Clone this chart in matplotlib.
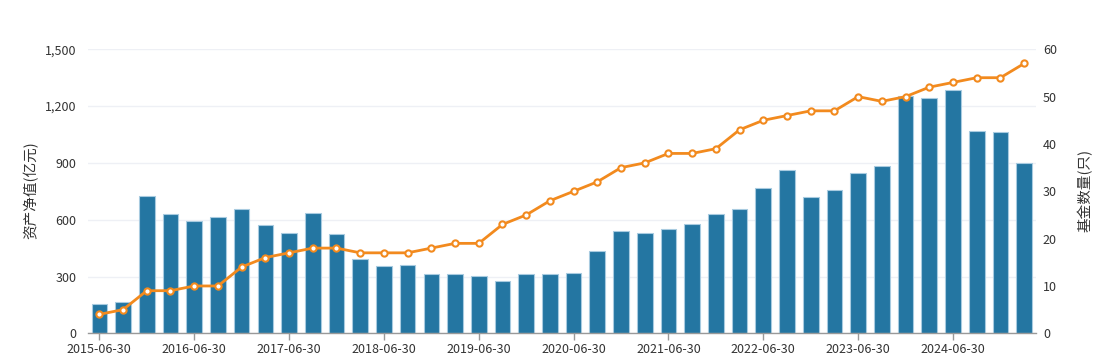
import matplotlib
matplotlib.use("Agg")
import matplotlib.pyplot as plt
from matplotlib.ticker import FuncFormatter

plt.rcParams['font.family'] = ['Noto Sans CJK SC', 'DejaVu Sans']

dates = []
for y in range(2015, 2026):
    for md in ["03-31", "06-30", "09-30", "12-31"]:
        dates.append(f"{y}-{md}")
dates = dates[1:41]  # 2015-06-30 .. 2025-03-31

net_assets = [155, 166, 726, 630, 592, 615, 655, 572, 532, 634,
              527, 393, 354, 359, 315, 315, 303, 275, 315, 313,
              320, 433, 539, 530, 551, 578, 630, 655, 766, 863,
              718, 755, 847, 884, 1254, 1241, 1287, 1069, 1065, 902]
fund_count = [4, 5, 9, 9, 10, 10, 14, 16, 17, 18,
              18, 17, 17, 17, 18, 19, 19, 23, 25, 28,
              30, 32, 35, 36, 38, 38, 39, 43, 45, 46,
              47, 47, 50, 49, 50, 52, 53, 54, 54, 57]

left_ticks = [0, 300, 600, 900, 1200, 1500]
right_ticks = [0, 10, 20, 30, 40, 50, 60]

fig = plt.figure(figsize=(11.02, 3.64), dpi=100)
ax = fig.add_axes([87.5/1102, (364-333.3)/364, (1036-87.5)/1102, (333.3-49.3)/364])
ax2 = ax.twinx()

x = list(range(len(dates)))
ax.bar(x, net_assets, width=0.66, color="#2476a2", edgecolor="#a8cbe0", linewidth=0.8, zorder=2)
ax.set_xlim(-0.5, len(dates) - 0.5)
ax.set_ylim(0, 1500)
ax.set_yticks(left_ticks)
ax.yaxis.set_major_formatter(FuncFormatter(lambda v, p: f"{int(v):,}"))
ax.grid(axis='y', color="#eef0f5", linewidth=1, zorder=0)
ax.set_axisbelow(True)

ax2.plot(x, fund_count, color="#f28a1e", linewidth=2, marker='o', markersize=4.5,
         markerfacecolor="white", markeredgecolor="#f28a1e", markeredgewidth=1.5, zorder=3)
ax2.set_ylim(0, 60)
ax2.set_yticks(right_ticks)

ax.set_xticks(x[::4])
ax.set_xticklabels(dates[::4])

for a in (ax, ax2):
    for s in ['top', 'left', 'right', 'bottom']:
        a.spines[s].set_visible(False)
ax.spines['bottom'].set_visible(True)
ax.spines['bottom'].set_color("#999999")
ax.spines['bottom'].set_linewidth(1)

ax.tick_params(axis='x', colors="#999999", length=5, width=1, labelcolor="#333333", labelsize=9, pad=2)
ax.tick_params(axis='y', length=0, labelcolor="#333333", labelsize=9, pad=8)
ax2.tick_params(axis='y', length=0, labelcolor="#333333", labelsize=9, pad=5)

fig.text(31/1102, 1 - 190/364, "资产净值(亿元)", rotation=90, ha='center', va='center',
         fontsize=10.5, color="#333333")
fig.text(1085/1102, 1 - 190/364, "基金数量(只)", rotation=90, ha='center', va='center',
         fontsize=10.5, color="#333333")

fig.savefig("out.png", dpi=100)
